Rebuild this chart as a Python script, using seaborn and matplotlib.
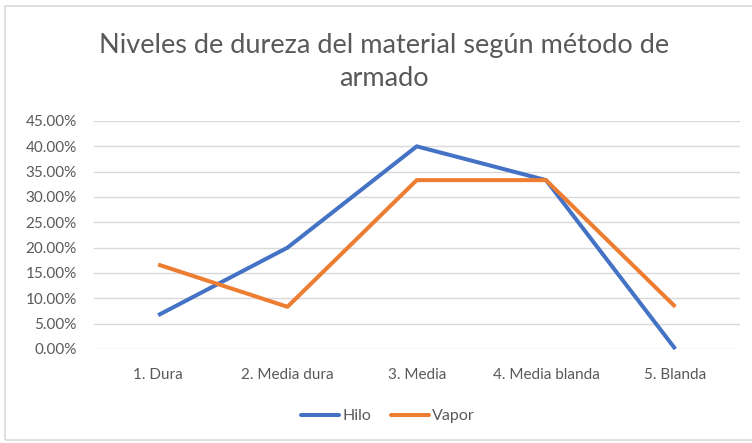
import pandas as pd
import seaborn as sns
import matplotlib.pyplot as plt
from matplotlib.patches import Rectangle
from matplotlib.ticker import PercentFormatter
from matplotlib.lines import Line2D

# --- datos ---
categorias = ['1. Dura', '2. Media dura', '3. Media', '4. Media blanda', '5. Blanda']
hilo = [0.0667, 0.20, 0.40, 0.3333, 0.0]
vapor = [0.1667, 0.0833, 0.3333, 0.3333, 0.0833]
series = ['Hilo', 'Vapor']
colores = {'Hilo': '#4472C4', 'Vapor': '#ED7D31'}
titulo = 'Niveles de dureza del material según método de\narmado'

df = pd.DataFrame({
    'categoria': categorias * 2,
    'valor': hilo + vapor,
    'serie': ['Hilo'] * len(hilo) + ['Vapor'] * len(vapor),
})

sns.set_style('white')
plt.rcParams['font.family'] = ['Lato', 'DejaVu Sans']

fig = plt.figure(figsize=(7.52, 4.43), dpi=100)
W, H = 752, 443
ax = fig.add_axes([93.5 / W, 1 - 349 / H, (740 - 93.5) / W, (349 - 121) / H])

# marco del gráfico
fig.patches.append(Rectangle((5 / W, 3 / H), 1.0, (437 - 3) / H, transform=fig.transFigure,
                             fill=False, edgecolor='#D9D9D9', linewidth=1.2))

sns.lineplot(data=df, x='categoria', y='valor', hue='serie', palette=colores,
             sort=False, linewidth=2.9, ax=ax, legend=False)
for ln in ax.lines:
    ln.set_clip_on(False)
    ln.set_solid_capstyle('butt')
    ln.set_solid_joinstyle('round')

ax.set_xlim(-0.5, 4.5)
ax.set_ylim(0, 0.45)
ax.set_yticks([i * 0.05 for i in range(10)])
ax.yaxis.set_major_formatter(PercentFormatter(1.0, decimals=2))
ax.grid(axis='y', color='#D9D9D9', linewidth=1)
ax.set_axisbelow(True)
for s in ax.spines.values():
    s.set_visible(False)
ax.tick_params(axis='both', length=0, labelsize=11, labelcolor='#595959', pad=14)
ax.tick_params(axis='y', pad=12)
ax.set_xlabel('')
ax.set_ylabel('')

fig.text(384 / W, 1 - 62 / H, titulo, ha='center', va='center', fontsize=19.5,
         color='#595959', linespacing=1.45)

handles = [Line2D([], [], color=colores[s], linewidth=2.9) for s in series]
fig.legend(handles, series, loc='center', bbox_to_anchor=(388 / W, 1 - 416 / H), ncol=2,
           frameon=False, fontsize=11.5, labelcolor='#595959', handlelength=2.4,
           handletextpad=0.2, columnspacing=1.2)

fig.savefig('out.png', dpi=100)
